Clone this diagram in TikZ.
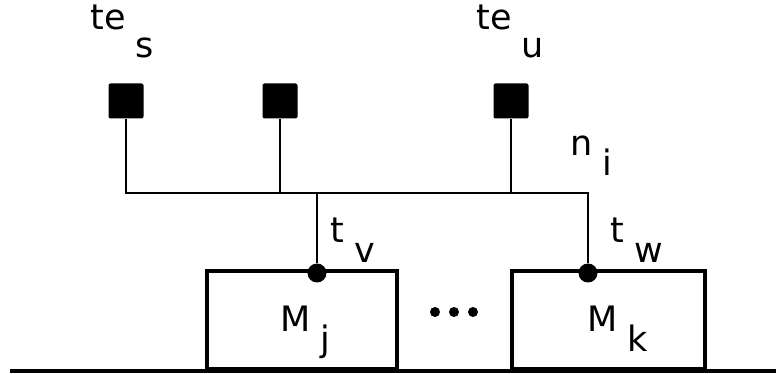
\documentclass[tikz,border=0pt]{standalone}
\usepackage{fontspec}
\setmainfont{DejaVu Sans}
\newcommand{\lbl}[3][10pt]{#2\hspace{5pt}\raisebox{-#1}{#3}}
\begin{document}
\begin{tikzpicture}[x=0.5pt,y=0.5pt, wire/.style={line width=1.4pt}, heavy/.style={line width=2pt}, term/.style={fill=black,inner sep=0pt,minimum size=17.5pt,rounded corners=1pt}, conn/.style={circle,fill=black,inner sep=0pt,minimum size=9.5pt}, mach/.style={draw,heavy,inner sep=0pt,minimum height=49pt,anchor=south west}, lab/.style={anchor=base west,inner sep=0pt,font=\fontsize{17.5pt}{20pt}\selectfont}]
\useasboundingbox (0,0) rectangle (776,374);
\coordinate (gl) at (10,3);
\coordinate (gr) at (776,3);
\node[mach, minimum width=95pt] (boxj) at (205,3) {};
\node[mach, minimum width=96.5pt] (boxk) at (510,3) {};
\draw[heavy] (gl) -- (gr);
\node[term] (ts) at (126,273) {};
\node[term] (tm) at (280,273) {};
\node[term] (tu) at (511,273) {};
\node[conn] (cv) at (317,101) {};
\node[conn] (cw) at (588,101) {};
\coordinate (bv) at (317,181);
\coordinate (bw) at (588,181);
\draw[wire] (ts.south) |- (bw) -- (cw);
\draw[wire] (tm.south) -- (tm.south |- bv);
\draw[wire] (tu.south) -- (tu.south |- bv);
\draw[wire] (bv) -- (cv);
\node[lab] (tes) at (90,344) {\lbl[14pt]{te}{s}};
\node[lab] (teu) at (476,344) {\lbl[14pt]{te}{u}};
\node[lab] (ni) at (570,218) {\lbl{n}{i}};
\node[lab] (tv) at (330,131) {\lbl{t}{v}};
\node[lab] (tw) at (610,131) {\lbl{t}{w}};
\node[lab] (mj) at (280,42) {\lbl{M}{j}};
\node[lab] (mk) at (587,42) {\lbl{M}{k}};
\foreach \x in {435,454,473} \fill (\x,62) circle (2.5pt);
\end{tikzpicture}
\end{document}
